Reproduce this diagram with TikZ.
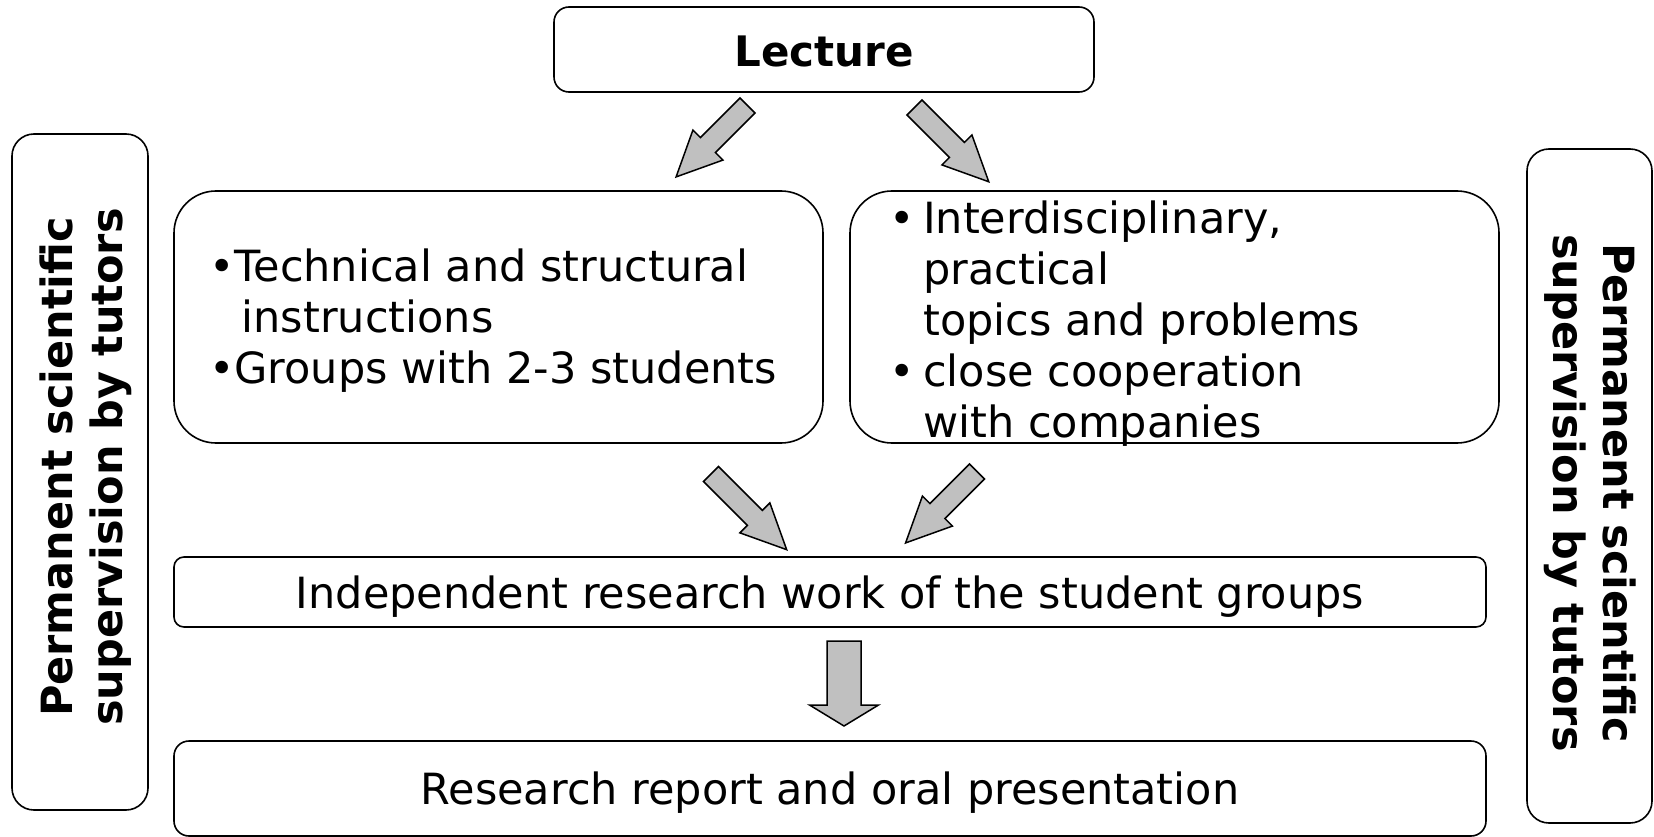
\documentclass[tikz,border=0pt]{standalone}
\usepackage{fontspec}
\setmainfont{DejaVu Sans}
\newcommand\blkarrow[7]{% #1 name, #2 tail, #3 angle, #4 length, #5 shaft half, #6 head half, #7 head length
  \begin{scope}[shift={#2},rotate=#3]
    \draw[blockarrow] (0,-#5) -- (#4-#7,-#5) -- (#4-#7,-#6) -- (#4,0) coordinate (#1)
      -- (#4-#7,#6) -- (#4-#7,#5) -- (0,#5) -- cycle;
  \end{scope}}
\begin{document}
\begin{tikzpicture}[x=1pt,y=1pt,
  box/.style={draw=black, line width=1.6pt, fill=white, inner sep=0pt},
  blockarrow/.style={draw=black, line width=1.5pt, fill=arrowgray, line join=miter},
  txt/.style={inner sep=0pt, font=\fontsize{43}{51}\selectfont},
  btxt/.style={inner sep=0pt, font=\fontsize{43}{50}\selectfont\bfseries}]
\definecolor{arrowgray}{RGB}{192,192,192}
\useasboundingbox (0,0) rectangle (1654,-837);
% boxes
\node[box, rounded corners=15pt, minimum width=540pt, minimum height=85pt] (lecture) at (824,-49.5) {};
\node[box, rounded corners=42pt, minimum width=649pt, minimum height=252pt] (tech) at (498.5,-317) {};
\node[box, rounded corners=42pt, minimum width=649pt, minimum height=252pt] (topics) at (1174.5,-317) {};
\node[box, rounded corners=22pt, minimum width=136pt, minimum height=676pt] (leftsup) at (80,-472) {};
\node[box, rounded corners=22pt, minimum width=125pt, minimum height=674pt] (rightsup) at (1589.5,-486) {};
\node[box, rounded corners=10pt, minimum width=1312pt, minimum height=70pt] (indep) at (830,-592) {};
\node[box, rounded corners=15pt, minimum width=1312pt, minimum height=95pt] (report) at (830,-788.5) {};
% texts
\node[btxt, font=\fontsize{42}{50}\selectfont\bfseries] (lecturetxt) at (824,-51) {Lecture};
\node[txt] (indeptxt) at (830,-597) {Independent research work of the student groups};
\node[txt] (reporttxt) at (830,-793) {Research report and oral presentation};
\node[txt, anchor=west, align=left] (techtxt) at (209,-321)
  {•Technical and structural\\\hphantom{•}\,instructions\\•Groups with 2-3 students};
\node[txt, anchor=west, align=left] (topicstxt) at (889,-323.5)
  {\makebox[34pt][l]{•}Interdisciplinary,\\\hspace*{34pt}practical\\\hspace*{34pt}topics and problems\\\makebox[34pt][l]{•}close cooperation\\\hspace*{34pt}with companies};
\node[btxt, rotate=90, align=center] (lefttxt) at (86,-467) {Permanent scientific\\supervision by tutors};
\node[btxt, rotate=-90, align=center] (righttxt) at (1590,-493) {Permanent scientific\\supervision by tutors};
% block arrows
\blkarrow{a1}{(747.5,-105.5)}{225}{101}{10.6}{21.2}{45}
\blkarrow{a2}{(914.5,-107.5)}{-45}{105}{10.6}{21.2}{45}
\blkarrow{a3}{(711,-474)}{-45}{107}{10.6}{21.2}{45}
\blkarrow{a4}{(977,-471.5)}{225}{101}{10.6}{21.2}{45}
\blkarrow{a5}{(844,-641)}{-90}{85}{17}{34.5}{21}
\end{tikzpicture}
\end{document}
